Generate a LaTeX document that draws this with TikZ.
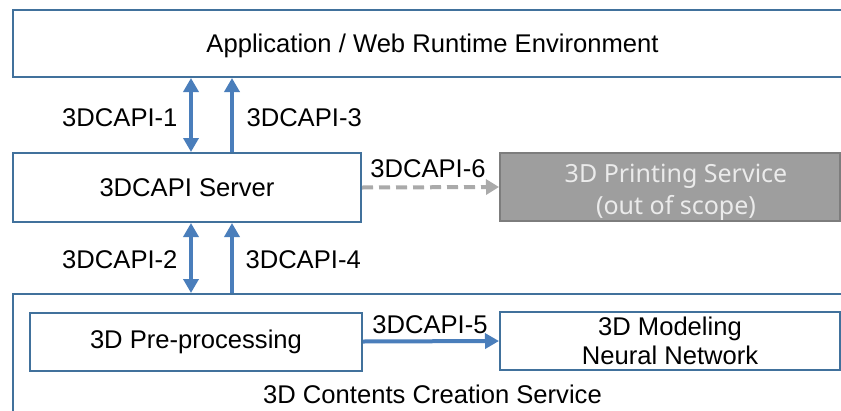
\documentclass[tikz,border=0pt]{standalone}
\usepackage{fontspec}
\setmainfont{Liberation Sans}
\newfontfamily\gothicfont{Noto Sans}
\usetikzlibrary{arrows.meta}

\definecolor{boxblue}{RGB}{65,113,156}
\definecolor{apiblue}{RGB}{74,126,187}
\definecolor{outgray}{RGB}{158,158,158}
\definecolor{outline}{RGB}{125,125,125}
\definecolor{dashgray}{RGB}{170,170,170}

\tikzset{
	box/.style={draw=boxblue, line width=2pt, fill=white, inner sep=0pt},
	outbox/.style={draw=outline, line width=2pt, fill=outgray, inner sep=0pt},
	outtext/.style={text=white!92!black, align=center, font=\gothicfont\fontsize{25}{32}\selectfont},
	api/.style={draw=apiblue, line width=4pt},
	apitip/.tip={Triangle[width=15pt,length=14pt]},
	outapi/.style={draw=dashgray, line width=4pt, dash pattern=on 11pt off 6pt},
	outtip/.tip={Triangle[width=15pt,length=13pt]}
}

\begin{document}
\begin{tikzpicture}[x=1pt, y=-1pt, font=\fontsize{25.6}{29}\selectfont]
	\useasboundingbox (0,0) rectangle (841,410);
	\clip (0,0) rectangle (841,410);

	% boxes
	\node[box, minimum width=839pt, minimum height=67pt] (app) at (432.5, 43.5) {};
	\node (applabel) at (432.5, 45.5) {Application / Web Runtime Environment};

	\node[box, minimum width=348pt, minimum height=69pt] (server) at (187, 187.5) {3DCAPI Server};

	\node[outbox, minimum width=340pt, minimum height=68pt] (print) at (670, 187) {};
	\node[outtext] (printlabel) at (676, 192) {3D Printing Service\\(out of scope)};

	\node[box, minimum width=839pt, minimum height=140pt] (ccs) at (432.5, 364) {};
	\node (ccslabel) at (432.5, 394.5) {3D Contents Creation Service};

	\node[box, minimum width=332pt, minimum height=58pt] (pre) at (196, 341.5) {3D Pre-processing};
	\node[box, minimum width=340pt, minimum height=58pt, align=center] (model) at (670, 341) {3D Modeling\\Neural Network};

	% connectors
	\coordinate (c1) at (191, 0);
	\coordinate (c3) at (232, 0);

	\draw[api, apitip-apitip] (server.north -| c1) -- (app.south -| c1);
	\draw[api, -apitip] (server.north -| c3) -- (app.south -| c3);
	\draw[api, apitip-apitip] (ccs.north -| c1) -- (server.south -| c1);
	\draw[api, -apitip] (ccs.north -| c3) -- (server.south -| c3);
	\draw[api, -apitip] (pre.east) -- (model.west);
	\draw[outapi, -outtip] (server.east) -- (print.west);

	% labels
	\node[anchor=east] (l1) at (181, 118) {3DCAPI-1};
	\node[anchor=west] (l3) at (243, 118) {3DCAPI-3};
	\node[anchor=east] (l2) at (181, 260) {3DCAPI-2};
	\node[anchor=west] (l4) at (242, 260) {3DCAPI-4};
	\node (l6) at (428, 169) {3DCAPI-6};
	\node (l5) at (430, 325) {3DCAPI-5};

\end{tikzpicture}
\end{document}
